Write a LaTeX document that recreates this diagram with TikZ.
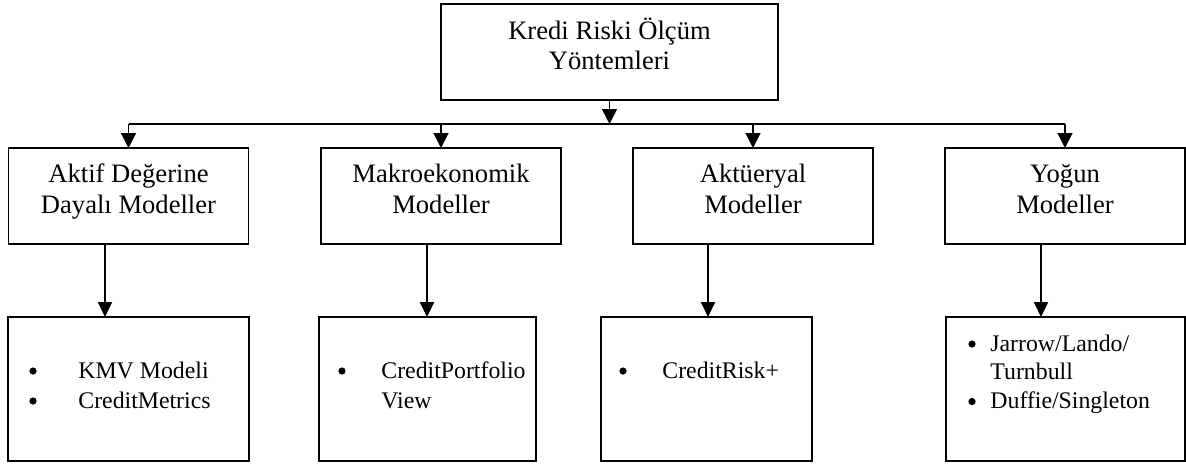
\documentclass[tikz,border=0pt]{standalone}
\usepackage{fontspec}
\setmainfont{Liberation Serif}
\usetikzlibrary{arrows.meta}
\begin{document}
\begin{tikzpicture}[x=0.5pt,y=-0.5pt,
  box/.style={draw,line width=0.7pt,inner sep=0pt,outer sep=0pt},
  topbox/.style={box,minimum width=168.5pt,minimum height=48pt},
  midbox/.style={box,minimum width=120pt,minimum height=48pt},
  lowbox/.style={box,minimum height=72pt},
  txt/.style={inner sep=0pt,anchor=base,font=\fontsize{13.3}{15.4}\selectfont},
  lst/.style={inner sep=0pt,anchor=base west,font=\fontsize{11.9}{15}\selectfont},
  conn/.style={line width=0.75pt,-{Triangle[length=7.5pt,width=7.5pt]}},
  connb/.style={line width=1pt,-{Triangle[length=7.5pt,width=7pt]}},
  bus/.style={line width=0.7pt},
  dot/.style={fill=black}]
\useasboundingbox (0,0) rectangle (1186,463);

% boxes
\node[topbox] (top) at (609.5,52) {};
\node[midbox] (a) at (128.5,196) {};
\node[midbox] (m) at (441,196) {};
\node[midbox] (k) at (753,196) {};
\node[midbox] (y) at (1065,196) {};
\node[lowbox,minimum width=120.5pt] (ab) at (128.5,389) {};
\node[lowbox,minimum width=108.5pt] (mb) at (427.5,389) {};
\node[lowbox,minimum width=105.5pt] (kb) at (706.5,389) {};
\node[lowbox,minimum width=119.5pt] (yb) at (1065.5,389) {};

% texts
\node[txt] (topt) at (609.5,39) {\begin{tabular}[t]{@{}c@{}}Kredi Riski Ölçüm\\Yöntemleri\end{tabular}};
\node[txt] (at) at (128.5,182.5) {\begin{tabular}[t]{@{}c@{}}Aktif Değerine\\Dayalı Modeller\end{tabular}};
\node[txt] (mt) at (441,182.5) {\begin{tabular}[t]{@{}c@{}}Makroekonomik\\Modeller\end{tabular}};
\node[txt] (kt) at (753,182.5) {\begin{tabular}[t]{@{}c@{}}Aktüeryal\\Modeller\end{tabular}};
\node[txt] (yt) at (1065,182.5) {\begin{tabular}[t]{@{}c@{}}Yoğun\\Modeller\end{tabular}};

\node[lst] (abt) at (78,378) {\begin{tabular}[t]{@{}l@{}}KMV Modeli\\CreditMetrics\end{tabular}};
\node[lst] (mbt) at (381,378) {\begin{tabular}[t]{@{}l@{}}CreditPortfolio\\View\end{tabular}};
\node[lst] (kbt) at (662,378) {\begin{tabular}[t]{@{}l@{}}CreditRisk+\end{tabular}};
\node[lst,font=\fontsize{11.9}{14.3}\selectfont] (ybt) at (990,351) {\begin{tabular}[t]{@{}l@{}}Jarrow/Lando/\\Turnbull\\Duffie/Singleton\end{tabular}};

% bullets
\fill[dot] (33,371) circle (3.6);
\fill[dot] (33,401) circle (3.6);
\fill[dot] (342,371) circle (3.6);
\fill[dot] (623,371) circle (3.6);
\fill[dot] (972,344) circle (3.6);
\fill[dot] (972,401.5) circle (3.6);

% connectors
\coordinate (busc) at (609.5,124);
\draw[conn] (top.south) -- (busc);
\draw[bus] (a.north |- busc) -- (y.north |- busc);
\foreach \n in {a,m,k,y} \draw[conn] (\n.north |- busc) -- (\n.north);

\draw[connb] ([xshift=-11.75pt]a.south) -- ([xshift=-11.75pt]ab.north);
\draw[connb] ([xshift=-7pt]m.south) -- ([xshift=-0.25pt]mb.north);
\draw[connb] ([xshift=-22.5pt]k.south) -- ([xshift=0.75pt]kb.north);
\draw[connb] ([xshift=-12pt]y.south) -- ([xshift=-12.25pt]yb.north);
\end{tikzpicture}
\end{document}
